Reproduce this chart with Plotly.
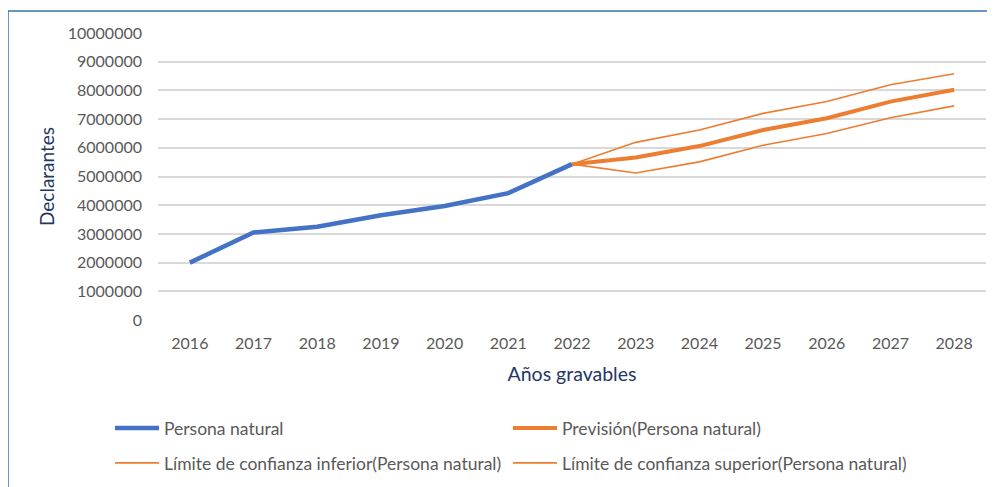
import plotly.graph_objects as go

years_hist = [2016, 2017, 2018, 2019, 2020, 2021, 2022]
persona_natural = [2000000, 3050000, 3250000, 3650000, 3970000, 4420000, 5430000]

years_fc = [2022, 2023, 2024, 2025, 2026, 2027, 2028]
prevision = [5430000, 5660000, 6060000, 6620000, 7030000, 7610000, 8020000]
lim_inf = [5430000, 5120000, 5510000, 6090000, 6500000, 7050000, 7460000]
lim_sup = [5430000, 6190000, 6620000, 7200000, 7610000, 8200000, 8580000]

x_ticks = list(range(2016, 2029))
y_ticks = list(range(0, 10000001, 1000000))

BLUE = "#4472C4"
ORANGE = "#ED7D31"
FONT = "Lato"

# page body has an 8px default margin; figure origin is at (8, 8) in the window
OFF = 8

fig = go.Figure()
fig.add_trace(go.Scatter(x=years_hist, y=persona_natural, mode="lines",
                         name="Persona natural", line=dict(color=BLUE, width=4.5),
                         legend="legend"))
fig.add_trace(go.Scatter(x=years_fc, y=prevision, mode="lines",
                         name="Previsión(Persona natural)", line=dict(color=ORANGE, width=4),
                         legend="legend"))
fig.add_trace(go.Scatter(x=years_fc, y=lim_inf, mode="lines",
                         name="Límite de confianza inferior(Persona natural)",
                         line=dict(color=ORANGE, width=1.6), legend="legend2"))
fig.add_trace(go.Scatter(x=years_fc, y=lim_sup, mode="lines",
                         name="Límite de confianza superior(Persona natural)",
                         line=dict(color=ORANGE, width=1.6), legend="legend2"))

W, H = 995 - OFF, 487 - OFF
# target window-pixel coordinates of the plot area
PL, PR, PT, PB = 158, 986, 33, 320
L, T = PL - OFF, PT - OFF
R = W - (PR - OFF)
B = H - (PB - OFF)
pw, ph = W - L - R, H - T - B

def px_x(p):
    return (p - OFF - L) / pw

def px_y(p):
    return (H - B - (p - OFF)) / ph

leg_common = dict(orientation="h", xanchor="left", yanchor="middle",
                  entrywidth=339, entrywidthmode="pixels", itemwidth=44,
                  font=dict(family=FONT, size=17.5, color="#595959"),
                  bgcolor="rgba(0,0,0,0)")

fig.update_layout(
    width=W, height=H,
    margin=dict(l=L, r=R, t=T, b=B, autoexpand=False),
    paper_bgcolor="white", plot_bgcolor="white",
    font=dict(family=FONT, size=16, color="#595959"),
    showlegend=True,
    legend=dict(x=px_x(110), y=px_y(428), **leg_common),
    legend2=dict(x=px_x(110), y=px_y(463), **leg_common),
    xaxis=dict(range=[2015.5, 2028.5], tickmode="array", tickvals=x_ticks,
               ticktext=[str(v) for v in x_ticks], showgrid=False, zeroline=False,
               showline=False, ticks="", ticklabelstandoff=12, automargin=False,
               tickfont=dict(family=FONT, size=16, color="#595959"),
               title=dict(text="Años gravables", standoff=16,
                          font=dict(family=FONT, size=19.5, color="#1F3864"))),
    yaxis=dict(range=[0, 10000000], tickmode="array", tickvals=y_ticks,
               ticktext=[str(v) for v in y_ticks], showgrid=True, gridcolor="#D9D9D9",
               gridwidth=1.5, zeroline=False, showline=False, ticks="",
               ticklabelstandoff=15, automargin=False,
               tickfont=dict(family=FONT, size=16, color="#595959"),
               title=dict(text="Declarantes", standoff=8,
                          font=dict(family=FONT, size=19, color="#1F3864"))),
    shapes=[
        dict(type="line", xref="paper", yref="paper", x0=px_x(8), x1=px_x(8),
             y0=px_y(11), y1=px_y(500), line=dict(color="#2E75B6", width=1.5)),
        dict(type="line", xref="paper", yref="paper", x0=px_x(8), x1=px_x(1010),
             y0=px_y(11), y1=px_y(11), line=dict(color="#2E75B6", width=1.5)),
    ],
)

fig.write_html("out.html")
